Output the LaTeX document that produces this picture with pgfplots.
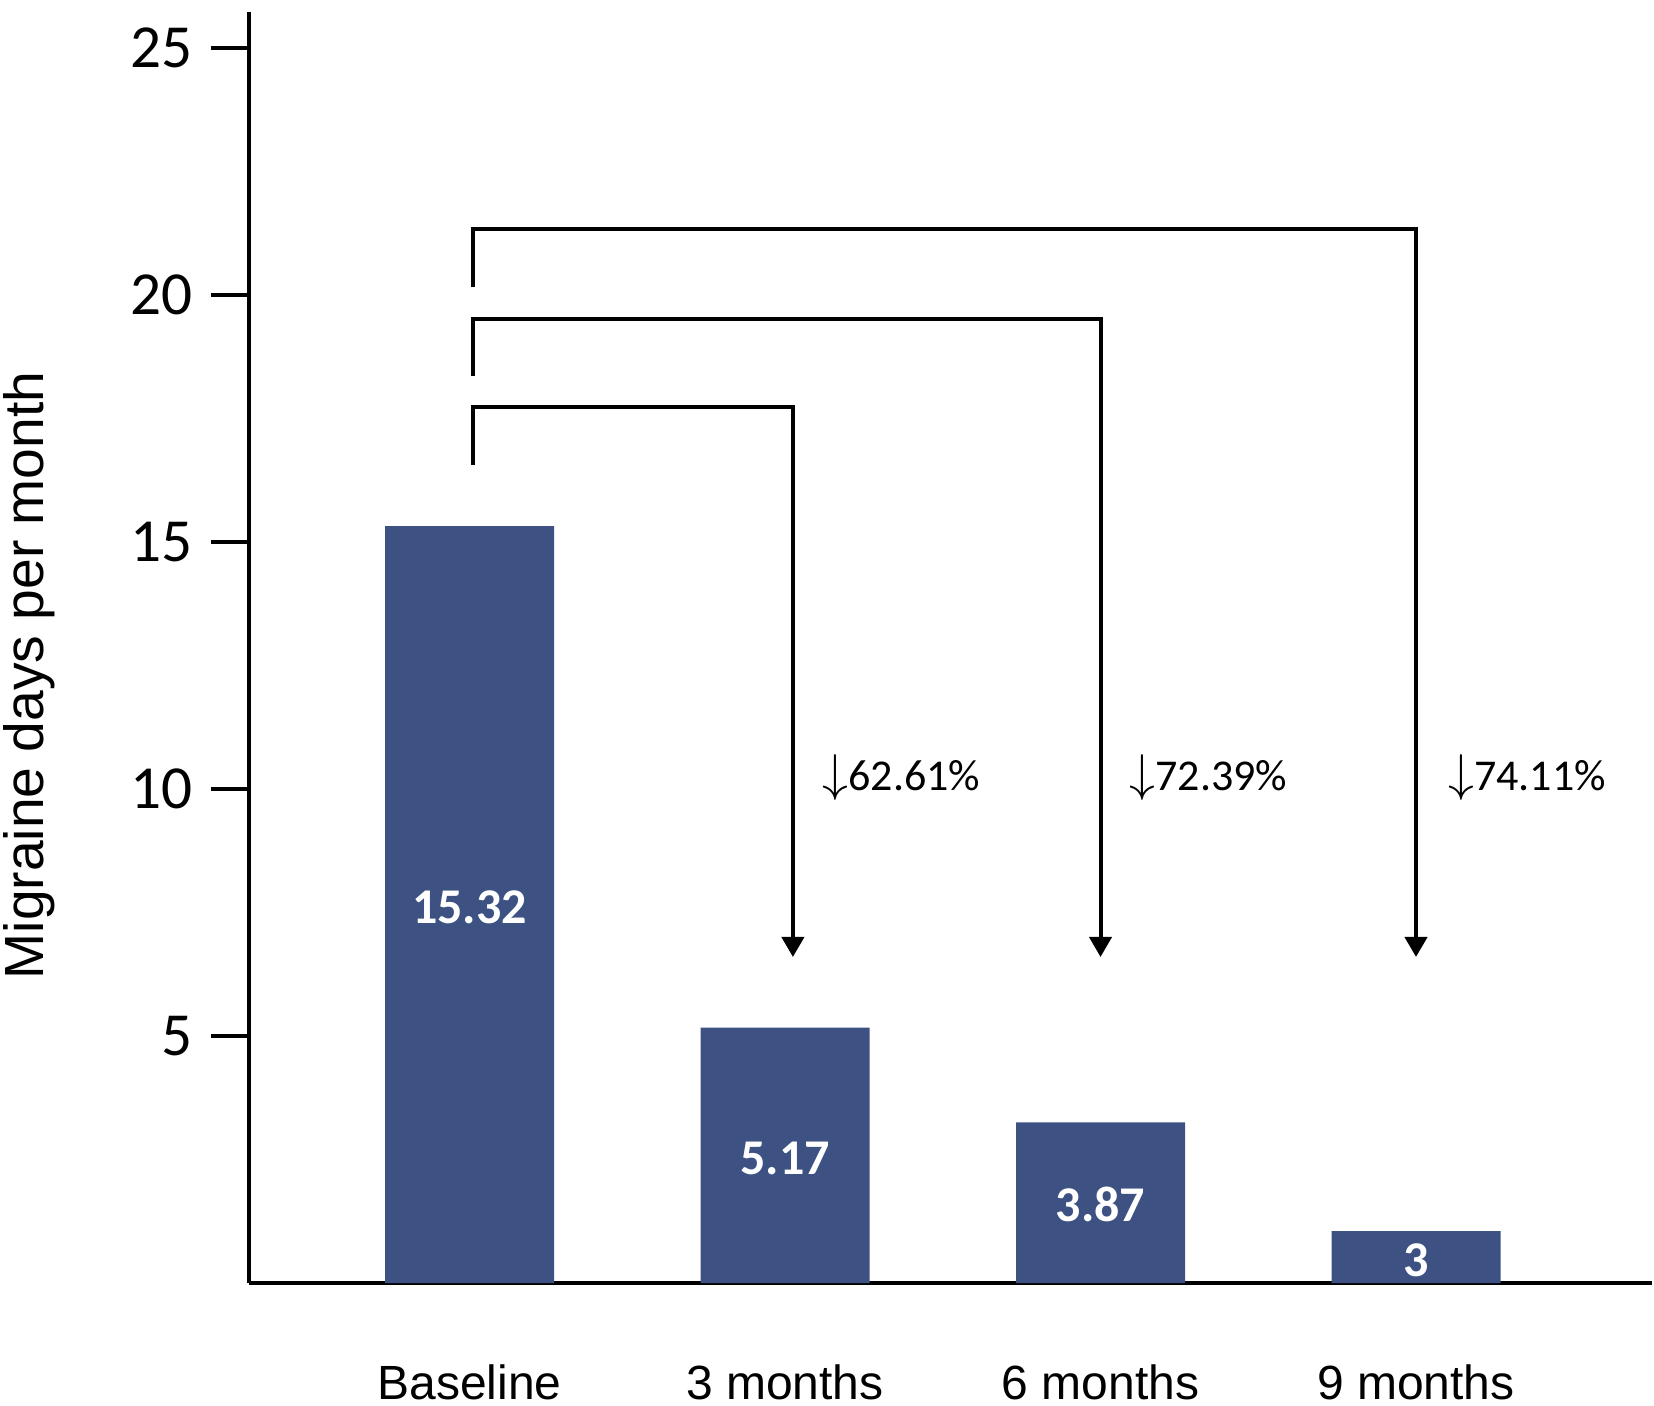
\documentclass[border=0pt]{standalone}
\usepackage{fontspec}
\setmainfont{Liberation Sans}
\newfontfamily\carlito{Carlito}
\usepackage{graphicx}
\usepackage{pgfplots}
\pgfplotsset{compat=1.18}
\usetikzlibrary{arrows.meta}
\definecolor{barblue}{RGB}{61,82,131}
\newcommand\dn{\scalebox{1.18}{$\downarrow$}}

\begin{document}
\begin{tikzpicture}
\begin{axis}[
  name=ax,
  scale only axis,
  width=350.75pt, height=317.75pt,
  xmin=-0.699, xmax=3.748,
  ymin=0, ymax=25.73,
  axis x line*=bottom, axis y line*=left,
  axis line style={-, line width=1pt, black},
  xtick={0,1,2,3},
  xticklabels={Baseline, 3 months, 6 months, 9 months},
  xtick style={draw=none},
  xticklabel style={font=\fontsize{12}{14}\selectfont, anchor=base, yshift=-19.5pt},
  ytick={5,10,15,20,25},
  tick align=outside,
  major tick length=9.5pt,
  ytick style={line width=1pt, black},
  yticklabel style={font=\carlito\fontsize{15.3}{18}\selectfont, anchor=east, inner sep=0pt, xshift=-4.5pt},
  /pgf/number format/assume math mode=true,
  ylabel={Migraine days per month},
  ylabel style={font=\fontsize{13.8}{16}\selectfont, at={(axis description cs:-0.1565,0.478)}, anchor=center},
  clip=false,
]
% bars as drawn (the two right bars are shorter than their labels)
\addplot[ybar, bar width=42.25pt, fill=barblue, draw=none] coordinates {(0,15.32) (1,5.17) (2,3.25) (3,1.05)};

% value labels inside the bars
\addplot[draw=none, no marks, nodes near coords, point meta=explicit symbolic,
  nodes near coords style={anchor=center, text=white, font=\carlito\bfseries\fontsize{12.5}{14}\selectfont}]
  coordinates {(0,7.6)[15.32] (1,2.53)[5.17] (2,1.6)[3.87] (3,0.47)[3]};

% reduction labels
\addplot[draw=none, no marks, nodes near coords, point meta=explicit symbolic,
  nodes near coords style={anchor=base west, inner sep=0pt, font=\carlito\fontsize{11}{13}\selectfont}]
  coordinates {(1.117,9.98)[\dn62.61\%] (2.09,9.98)[\dn72.39\%] (3.10,9.98)[\dn74.11\%]};

\draw[line width=1pt, -{Triangle[width=5.5pt,length=5pt]}] (axis cs:0.011,16.56) |- (axis cs:1.025,17.73) -- (axis cs:1.025,6.6);
\draw[line width=1pt, -{Triangle[width=5.5pt,length=5pt]}] (axis cs:0.011,18.36) |- (axis cs:2.0,19.51) -- (axis cs:2.0,6.6);
\draw[line width=1pt, -{Triangle[width=5.5pt,length=5pt]}] (axis cs:0.011,20.16) |- (axis cs:3.0,21.34) -- (axis cs:3.0,6.6);
\end{axis}
\pgfresetboundingbox
\path[use as bounding box] ([xshift=-62.25pt,yshift=-30.5pt]ax.south west) rectangle ([xshift=0.5pt,yshift=3pt]ax.north east);
\end{tikzpicture}
\end{document}
